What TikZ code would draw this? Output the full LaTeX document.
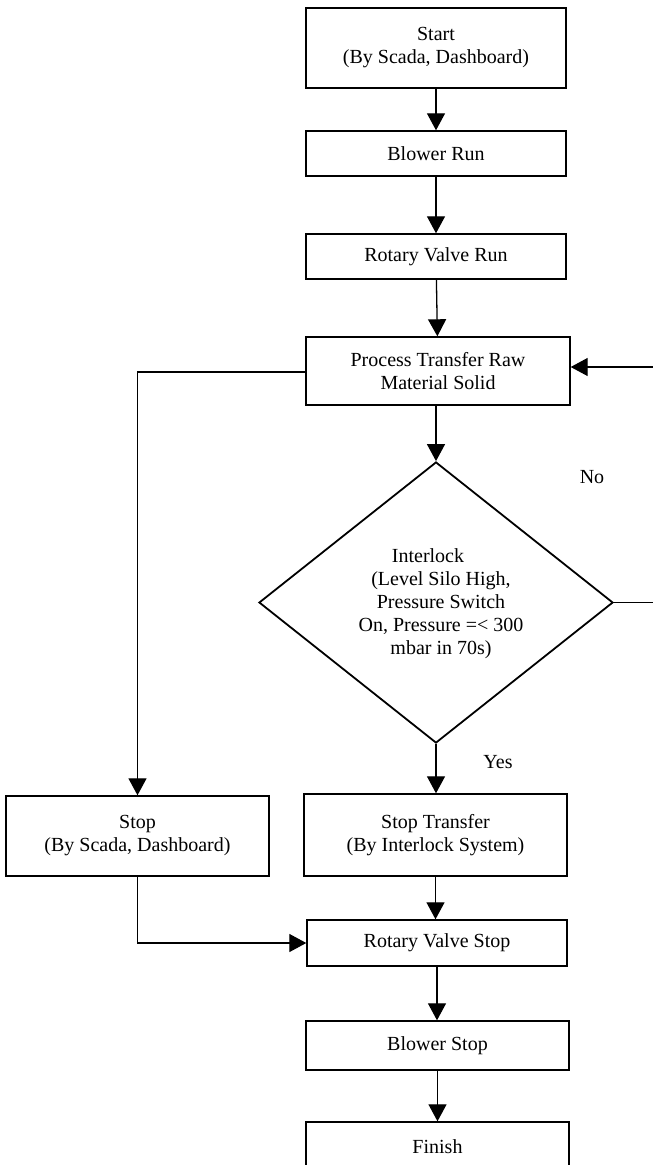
\documentclass[tikz,border=0pt]{standalone}
\usepackage{fontspec}
\setmainfont{Liberation Serif}
\usetikzlibrary{arrows.meta,shapes.geometric}
\begin{document}
\begin{tikzpicture}[x=1pt,y=-1pt,
  txt/.style={font=\fontsize{20}{23}\selectfont, align=center, inner sep=0pt},
  box/.style={txt, draw, rectangle, line width=1.4pt},
  decision/.style={draw, diamond, line width=1.8pt, inner sep=0pt},
  flow/.style={line width=1.3pt, -{Triangle[length=17pt,width=18pt]}},
  link/.style={line width=1.3pt}]
\useasboundingbox (0,0) rectangle (653,1165);
\clip (0,0) rectangle (653,1165);

% main column
\node[box, minimum width=260pt, minimum height=80pt] (start) at (436,48)
  {Start\\(By Scada, Dashboard)};
\node[box, minimum width=260pt, minimum height=45pt] (blower) at (436,153.5) {Blower Run};
\node[box, minimum width=260pt, minimum height=45pt] (rvrun) at (436,256.5) {Rotary Valve Run};
\node[box, minimum width=264pt, minimum height=68pt] (proc) at (438,371)
  {Process Transfer Raw\\Material Solid};
\node[decision, minimum width=354pt, minimum height=281pt] (dia) at (436,602.5) {};
\node[txt] (diatext) at (441,604)
  {Interlock\hspace*{26pt}\\(Level Silo High,\\Pressure Switch\\On, Pressure =< 300\\mbar in 70s)};
\node[box, minimum width=263pt, minimum height=82pt] (stopT) at (435.5,835)
  {Stop Transfer\\(By Interlock System)};
\node[box, minimum width=260pt, minimum height=46pt] (rvstop) at (437,943) {Rotary Valve Stop};
\node[box, minimum width=263pt, minimum height=49pt] (bstop) at (437.5,1045.5) {Blower Stop};
\node[box, minimum width=263pt, minimum height=50pt] (finish) at (437.5,1147) {Finish};

% manual stop branch
\node[box, minimum width=263pt, minimum height=80pt] (stopL) at (137.5,836)
  {Stop\\(By Scada, Dashboard)};

% branch labels
\node[txt] (no) at (592,477) {No};
\node[txt] (yes) at (498,762) {Yes};

% connectors
\draw[flow] (start) -- (blower);
\draw[flow] (blower) -- (rvrun);
\draw[flow] (rvrun) -- (proc);
\draw[flow] (proc.south -| dia.north) -- (dia.north);
\draw[flow] (dia.south) -- (stopT.north -| dia.south);
\draw[flow] (stopT.south) -- (stopT.south |- rvstop.north);
\draw[flow] (rvstop.south) -- (rvstop.south |- bstop.north);
\draw[flow] (bstop.south) -- (bstop.south |- finish.north);
\coordinate (loop) at (662,602.5);
\draw[flow] (dia.east) -- (loop) |- ([yshift=4pt]proc.east);
\draw[flow] ([yshift=-1pt]proc.west) -| (stopL.north);
\draw[flow] (stopL.south) |- (rvstop.west);
\end{tikzpicture}
\end{document}
